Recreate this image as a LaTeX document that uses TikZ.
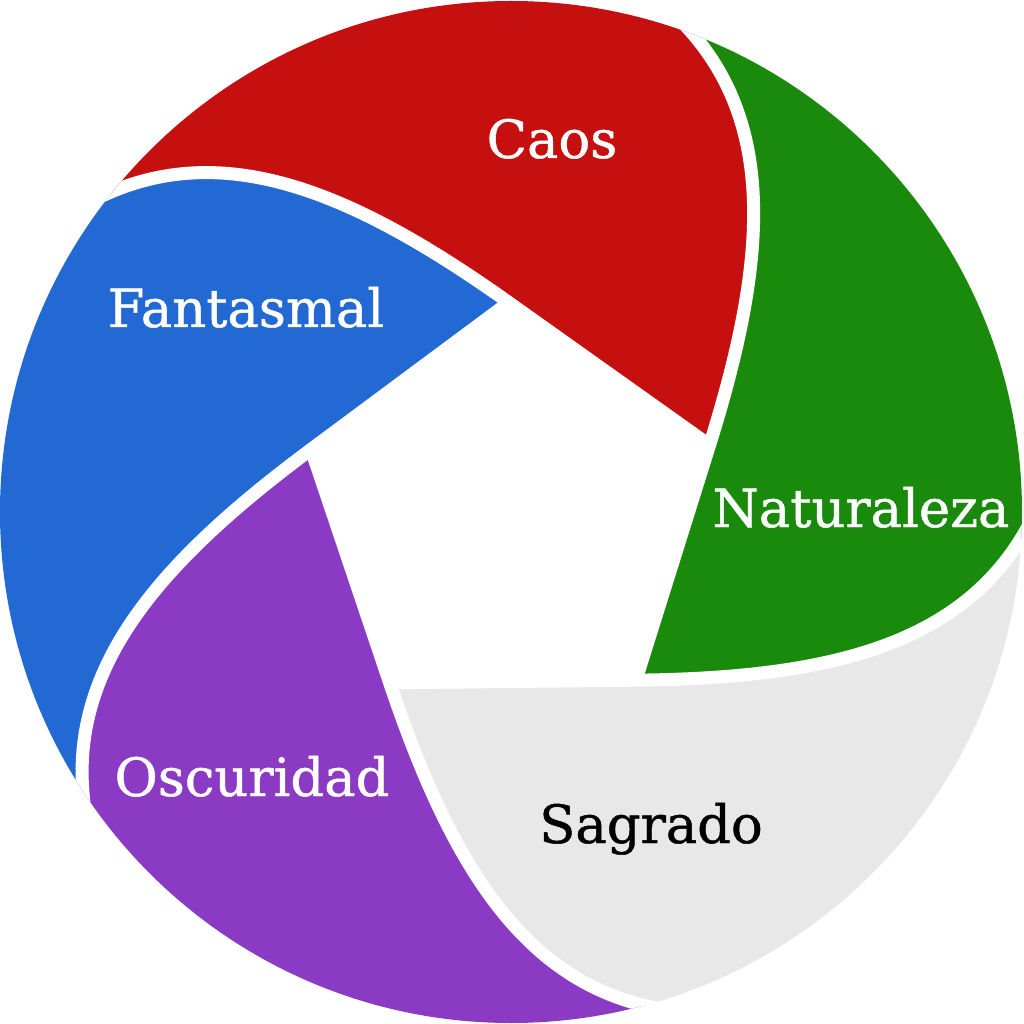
\documentclass[tikz,border=0pt]{standalone}
\usepackage{fontspec}
\setmainfont{DejaVu Serif}
\newfontfamily\petalfont{DejaVu Serif}[FakeBold=0.9]
\usepackage{xcolor}
\usepackage{tikz}

\definecolor{caosred}{HTML}{C5100F}
\definecolor{fantblue}{HTML}{2369D4}
\definecolor{natgreen}{HTML}{198A0B}
\definecolor{sagrgray}{HTML}{E8E8E8}
\definecolor{oscpurple}{HTML}{8B3AC4}

\begin{document}
\begin{tikzpicture}[x=0.01cm, y=0.01cm,
        gap/.style={draw=white, line width=0.13cm},
        petaltext/.style={font=\petalfont\fontsize{15}{18}\selectfont, text=white, anchor=base}]

    \useasboundingbox (-511,-512) rectangle (512,512);
    \fill[white] (-511,-512) rectangle (512,512);

    % inner pentagon corners and the swirl curve leaving each one
    \foreach \k in {0,...,4} {
        \begin{scope}[rotate=72*\k]
            \coordinate (v\k) at (18.6:209.5);
            \coordinate (a\k) at (-165.2,325.3);
            \coordinate (b\k) at (-300,380);
            \coordinate (e\k) at (-430,305);
        \end{scope}
    }

    \begin{scope}
        \clip (0,0) circle (511);
        \foreach \k/\col in {0/caosred, 1/fantblue, 2/oscpurple, 3/sagrgray, 4/natgreen} {
            \pgfmathtruncatemacro\next{mod(\k+1,5)}
            \pgfmathtruncatemacro\prev{mod(\k+4,5)}
            \begin{scope}[rotate=72*\k]
                \fill[\col] (v\k) -- (v\next) .. controls (a\k) and (b\k) .. (e\k)
                    -- (150:800) -- (110:800) -- (70:800) -- (e\prev)
                    .. controls (b\prev) and (a\prev) .. (v\k) -- cycle;
            \end{scope}
        }
        % white gaps between the petals
        \foreach \k in {0,...,4} {
            \pgfmathtruncatemacro\next{mod(\k+1,5)}
            \draw[gap] (v\k) -- (v\next) .. controls (a\k) and (b\k) .. (e\k);
        }
    \end{scope}

    \node[petaltext] (caos) at (41,354) {Caos};
    \node[petaltext] (fantasmal) at (-265,185) {Fantasmal};
    \node[petaltext] (naturaleza) at (350,-15) {Naturaleza};
    \node[petaltext, text=black] (sagrado) at (140,-331) {Sagrado};
    \node[petaltext] (oscuridad) at (-259,-284) {Oscuridad};
\end{tikzpicture}
\end{document}
